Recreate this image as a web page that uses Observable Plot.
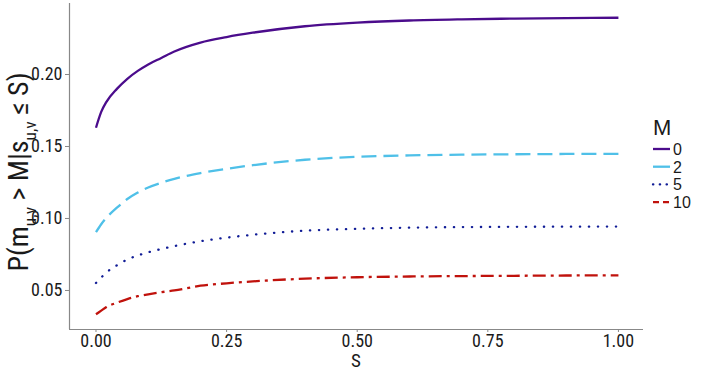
<!DOCTYPE html>
<html>
<head>
<meta charset="utf-8">
<script src="https://cdn.jsdelivr.net/npm/d3@7"></script>
<script src="https://cdn.jsdelivr.net/npm/@observablehq/plot@0.6"></script>
<style>
  html, body { margin: 0; padding: 0; background: #fff; }
  #wrap { position: relative; width: 702px; height: 371px; }
</style>
</head>
<body>
<div id="wrap"></div>
<script>
// ---- data ----
const S = [0, 0.01, 0.02, 0.04, 0.06, 0.08, 0.1, 0.125, 0.15, 0.2, 0.25, 0.3, 0.4, 0.5, 0.6, 0.7, 0.8, 0.9, 1.0];
const M0  = [0.163, 0.174, 0.181, 0.190, 0.197, 0.2025, 0.207, 0.2115, 0.2160, 0.2222, 0.2260, 0.2290, 0.2335, 0.2360, 0.2375, 0.2383, 0.2388, 0.2391, 0.2394];
const M2  = [0.0905, 0.096, 0.1005, 0.1075, 0.1135, 0.118, 0.1215, 0.1248, 0.1275, 0.1315, 0.1345, 0.1370, 0.1408, 0.1428, 0.1438, 0.1443, 0.1446, 0.1448, 0.1449];
const M5  = [0.0552, 0.059, 0.0625, 0.0675, 0.0715, 0.0743, 0.0765, 0.0788, 0.0808, 0.0842, 0.0867, 0.0887, 0.0915, 0.0928, 0.0936, 0.0940, 0.0942, 0.0943, 0.0944];
const M10 = [0.0335, 0.036, 0.0385, 0.0415, 0.044, 0.046, 0.0473, 0.0488, 0.0500, 0.0533, 0.0550, 0.0563, 0.0582, 0.0592, 0.0597, 0.0600, 0.0602, 0.0604, 0.0605];
const seriesNames = ["0", "2", "5", "10"];
const xTicks = [0, 0.25, 0.5, 0.75, 1.0];
const yTicks = [0.05, 0.10, 0.15, 0.20];

// ---- styles ----
const colors = ["#4b0c8c", "#4fc0e8", "#101c96", "#c0120c"];
const dashes = [null, "15,7", "0.3,8.7", "13,5,3,5"];
const caps = ["butt", "butt", "round", "butt"];
const xDomain = [-0.0507, 1.048];
const yDomain = [0.0229, 0.2493];

// pick an installed (preferably condensed) font
function pickFont(cands) {
  const c = document.createElement("canvas").getContext("2d");
  const probe = "0.20 abcdefMWS";
  for (const f of cands) {
    let diff = true;
    for (const g of ["monospace", "serif"]) {
      c.font = `40px ${g}`; const a = c.measureText(probe).width;
      c.font = `40px '${f}', ${g}`; const b = c.measureText(probe).width;
      if (Math.abs(a - b) < 0.01) diff = false;
    }
    if (diff) return f;
  }
  return "sans-serif";
}
const FONT = pickFont(["Liberation Sans Narrow", "Roboto Condensed", "DejaVu Sans Condensed", "Liberation Sans"]);
const FONT2 = pickFont(["Liberation Sans", "Arial", "DejaVu Sans"]);

const allSeries = [M0, M2, M5, M10];
const rows = allSeries.map((vals, i) => S.map((s, j) => ({S: s, P: vals[j], M: seriesNames[i]})));

const W = 702, H = 371;
const mL = 69, mR = 59, mT = 3, mB = 42;

const plot = Plot.plot({
  width: W,
  height: H,
  marginLeft: mL,
  marginRight: mR,
  marginTop: mT,
  marginBottom: mB,
  style: {background: "#fff", color: "#1a1a1a", fontSize: "18px", fontFamily: `'${FONT}', sans-serif`},
  x: {domain: xDomain},
  y: {domain: yDomain},
  marks: [
    Plot.ruleX([xDomain[0]], {stroke: "#888", strokeWidth: 1.2}),
    Plot.ruleY([yDomain[0]], {stroke: "#888", strokeWidth: 1.2}),
    Plot.axisX({ticks: xTicks, tickFormat: d3.format(".2f"), tickSize: 3, tickPadding: 2, stroke: "#888", label: null}),
    Plot.axisY({ticks: yTicks, tickFormat: d3.format(".2f"), tickSize: 4, tickPadding: 3, stroke: "#888", label: null}),
    ...rows.map((r, i) => Plot.line(r, {
      x: "S", y: "P", stroke: colors[i], strokeWidth: 2.3,
      strokeDasharray: dashes[i], curve: "monotone-x",
      strokeLinecap: caps[i]
    }))
  ]
});

const wrap = document.getElementById("wrap");
wrap.appendChild(plot);

const svg = d3.select(plot);
svg.selectAll('g[aria-label="x-axis tick label"], g[aria-label="y-axis tick label"]')
  .style("font-size", "18px").style("fill", "#1a1a1a");

const plotH = H - mT - mB;
const plotW = W - mL - mR;

// x axis title
svg.append("text")
  .attr("x", mL + plotW / 2).attr("y", 367)
  .attr("text-anchor", "middle")
  .attr("font-size", 19).attr("fill", "#1a1a1a")
  .text("S");

// y axis title with subscripts
function drawYTitle(fs) {
  svg.select("#ytitle").remove();
  const sub = fs * 0.62, off = fs * 0.28;
  const yt = svg.append("text").attr("id", "ytitle")
    .attr("transform", `translate(${28},${mT + plotH / 2 + 6}) rotate(-90)`)
    .attr("text-anchor", "middle")
    .attr("font-size", fs).attr("fill", "#1a1a1a");
  yt.append("tspan").text("P(m");
  yt.append("tspan").attr("font-size", sub).attr("dy", off).text("u,v");
  yt.append("tspan").attr("dy", -off).text(" > M|s");
  yt.append("tspan").attr("font-size", sub).attr("dy", off).text("u,v");
  yt.append("tspan").attr("dy", -off).text(" \u2264 S)");
  return yt.node();
}
let node = drawYTitle(22);
const len = node.getBBox().width;
if (len > 0) drawYTitle(Math.max(18, Math.min(28, 22 * 226 / len)));

// legend (right side)
const lg = svg.append("g").attr("transform", "translate(653,0)");
lg.append("text").attr("x", 0).attr("y", 135).attr("text-anchor", "start")
  .attr("font-size", 22).attr("fill", "#1a1a1a")
  .style("font-family", `'${FONT2}', sans-serif`).text("M");
seriesNames.forEach((name, i) => {
  const y = 149 + i * 17.7;
  lg.append("line").attr("x1", 0).attr("x2", 17).attr("y1", y).attr("y2", y)
    .attr("stroke", colors[i]).attr("stroke-width", 2.3)
    .attr("stroke-dasharray", i === 2 ? "0.3,6.5" : (i === 3 ? "6,4" : null))
    .attr("stroke-linecap", caps[i]);
  lg.append("text").attr("x", 20).attr("y", y + 6).attr("text-anchor", "start")
    .attr("font-size", 16).attr("fill", "#1a1a1a")
    .style("font-family", `'${FONT2}', sans-serif`).text(name);
});
</script>
</body>
</html>
